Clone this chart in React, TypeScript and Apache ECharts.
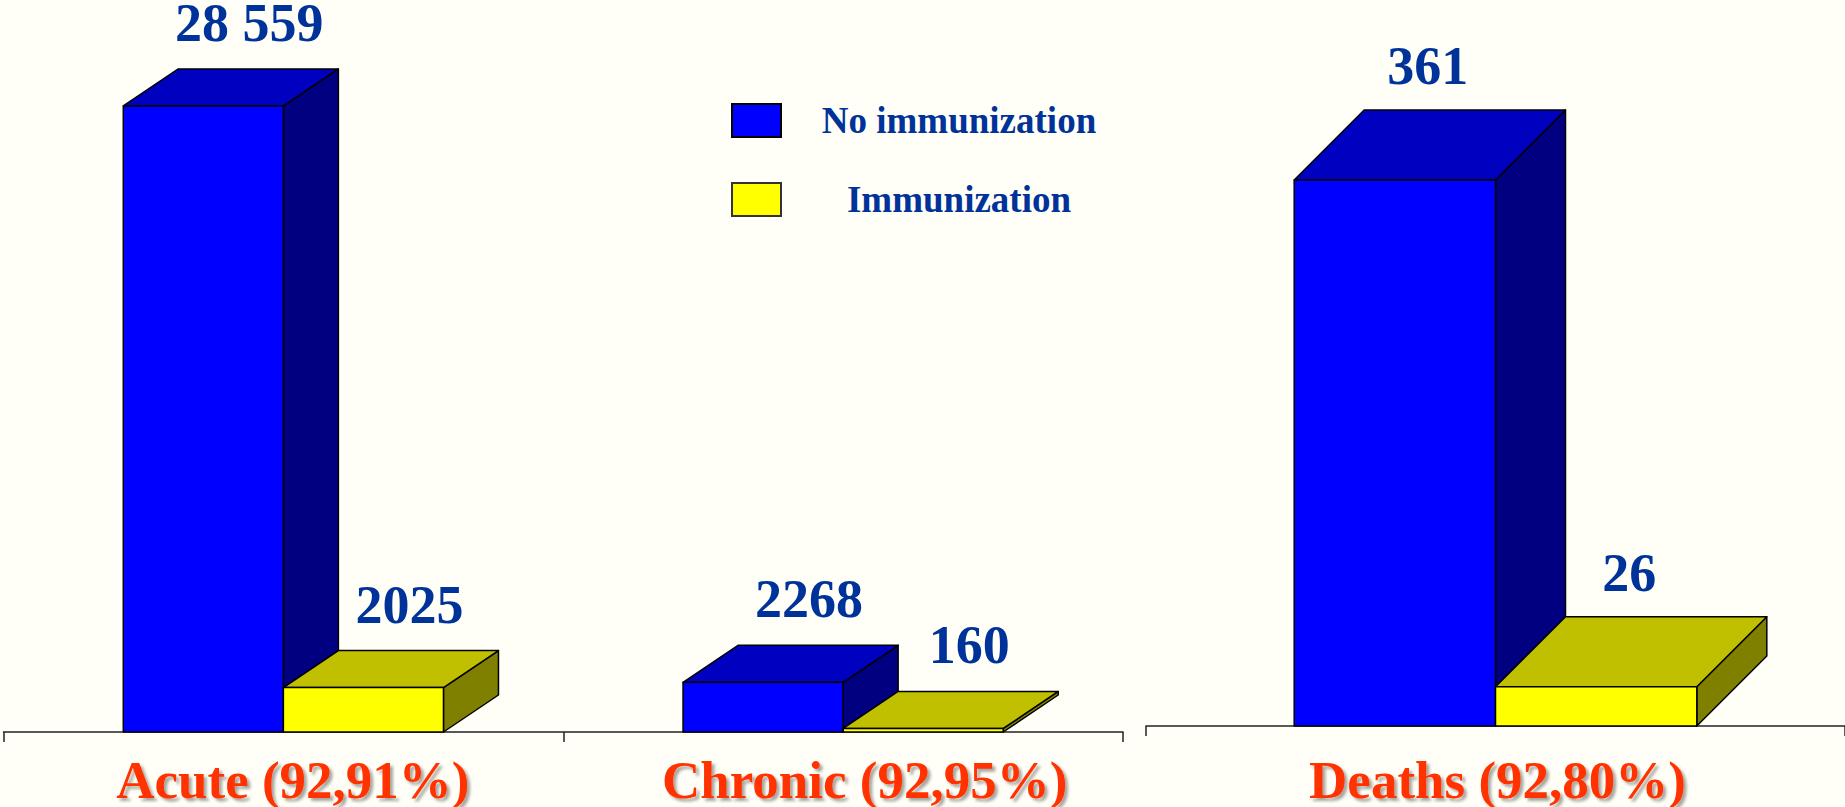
import React, { useEffect, useRef } from 'react';
import * as echarts from 'echarts';

// ---------- data ----------
const categoriesLeft = ['Acute (92,91%)', 'Chronic (92,95%)'];
const categoriesRight = ['Deaths (92,80%)'];
const noImmunizationLeft = [28559, 2268];
const immunizationLeft = [2025, 160];
const noImmunizationRight = [361];
const immunizationRight = [26];
const seriesNames = ['No immunization', 'Immunization'];

// ---------- styles ----------
const FONT = '"Liberation Serif", "Times New Roman", serif';
const BG = '#FFFFF7';
const BLUE = { front: '#0000FF', top: '#0000C0', side: '#000080' };
const YELLOW = { front: '#FFFF00', top: '#C0C000', side: '#808000' };
const VALUE_COLOR = '#003399';
const CAT_COLOR = '#FF3300';
const labelShiftLeft = [9.5, 21.5];
const labelShiftRight = [2];

function fmt(v: number): string {
  return v >= 10000 ? String(v).replace(/\B(?=(\d{3})+(?!\d))/g, ' ') : String(v);
}

function make3DRender(side: number, ratio: number, dx: number, dy: number, labelDx: number, labelGap: number, c: any) {
  return (params: any, api: any) => {
    const cat = api.value(0);
    const v = api.value(1);
    const pTop = api.coord([cat, v]);
    const pBase = api.coord([cat, 0]);
    const band = api.size([1, 0])[0];
    const w = band * ratio;
    const x0 = side < 0 ? pTop[0] - w : pTop[0];
    const x1 = x0 + w;
    const yT = pTop[1];
    const yB = pBase[1];
    const stroke = { stroke: '#000', lineWidth: 1.5, lineJoin: 'round' };
    return {
      type: 'group',
      children: [
        {
          type: 'polygon',
          shape: { points: [[x1, yB], [x1, yT], [x1 + dx, yT - dy], [x1 + dx, yB - dy]] },
          style: { fill: c.side, ...stroke },
        },
        {
          type: 'polygon',
          shape: { points: [[x0, yT], [x0 + dx, yT - dy], [x1 + dx, yT - dy], [x1, yT]] },
          style: { fill: c.top, ...stroke },
        },
        {
          type: 'rect',
          shape: { x: x0, y: yT, width: w, height: yB - yT },
          style: { fill: c.front, ...stroke },
        },
        {
          type: 'text',
          x: x0 + w / 2 + labelDx,
          y: yT - dy - labelGap,
          style: {
            text: fmt(v),
            fill: VALUE_COLOR,
            fontSize: 54,
            fontWeight: 'bold',
            fontFamily: FONT,
            align: 'center',
            verticalAlign: 'middle',
          },
        },
      ],
    };
  };
}

function catAxis(gridIndex: number, cats: string[], shifts: number[], margin: number) {
  return {
    type: 'category',
    gridIndex,
    data: cats.map((c, i) => ({ value: c, textStyle: { padding: [0, 0, 0, shifts[i] * 2] } })),
    boundaryGap: true,
    axisLine: { show: true, lineStyle: { color: '#222', width: 1.5 } },
    axisTick: { show: true, length: 10, lineStyle: { color: '#222', width: 1.5 } },
    axisLabel: {
      margin,
      color: CAT_COLOR,
      fontSize: 53,
      lineHeight: 42,
      fontWeight: 'bold',
      fontFamily: FONT,
      textShadowColor: 'rgba(0,0,0,0.35)',
      textShadowBlur: 3,
      textShadowOffsetX: 3,
      textShadowOffsetY: 3,
    },
    splitLine: { show: false },
  };
}

function toData(values: number[]) {
  return values.map((v, i) => [i, v]);
}

export default function App() {
  const ref = useRef<HTMLDivElement>(null);
  useEffect(() => {
    if (!ref.current) return;
    const chart = echarts.init(ref.current, undefined, { renderer: 'svg' });
    const option: any = {
      animation: false,
      backgroundColor: BG,
      legend: {
        orient: 'vertical',
        left: 731,
        top: 102,
        padding: 0,
        itemWidth: 49,
        itemHeight: 33,
        itemGap: 42,
        icon: 'rect',
        selectedMode: false,
        data: [
          { name: seriesNames[0], itemStyle: { color: BLUE.front, borderColor: '#000', borderWidth: 2 } },
          { name: seriesNames[1], itemStyle: { color: YELLOW.front, borderColor: '#333', borderWidth: 2 } },
        ],
        formatter: '{t|{name}}',
        textStyle: {
          rich: {
            t: {
              width: 346,
              align: 'center',
              fontSize: 37,
              fontWeight: 'bold',
              fontFamily: FONT,
              color: VALUE_COLOR,
              lineHeight: 33,
            },
          },
        },
      },
      grid: [
        { left: 3.5, right: 722, top: 74.4, bottom: 75, containLabel: false },
        { left: 1146, right: 0, top: 121, bottom: 81, containLabel: false },
      ],
      xAxis: [
        catAxis(0, categoriesLeft, labelShiftLeft, 27),
        catAxis(1, categoriesRight, labelShiftRight, 33),
      ],
      yAxis: [
        { type: 'value', gridIndex: 0, min: 0, max: 30000, show: false, splitLine: { show: false } },
        { type: 'value', gridIndex: 1, min: 0, max: 400, show: false, splitLine: { show: false } },
      ],
      series: [
        {
          type: 'custom', name: seriesNames[0], xAxisIndex: 0, yAxisIndex: 0, clip: false,
          itemStyle: { color: BLUE.front },
          encode: { x: 0, y: 1 },
          data: toData(noImmunizationLeft),
          renderItem: make3DRender(-1, 0.286, 55, 37, 46, 46, BLUE),
        },
        {
          type: 'custom', name: seriesNames[1], xAxisIndex: 0, yAxisIndex: 0, clip: false,
          itemStyle: { color: YELLOW.front },
          encode: { x: 0, y: 1 },
          data: toData(immunizationLeft),
          renderItem: make3DRender(1, 0.286, 55, 37, 46, 46, YELLOW),
        },
        {
          type: 'custom', name: seriesNames[0], xAxisIndex: 1, yAxisIndex: 1, clip: false,
          itemStyle: { color: BLUE.front },
          encode: { x: 0, y: 1 },
          data: toData(noImmunizationRight),
          renderItem: make3DRender(-1, 0.288, 70, 70, 33, 44, BLUE),
        },
        {
          type: 'custom', name: seriesNames[1], xAxisIndex: 1, yAxisIndex: 1, clip: false,
          itemStyle: { color: YELLOW.front },
          encode: { x: 0, y: 1 },
          data: toData(immunizationRight),
          renderItem: make3DRender(1, 0.288, 70, 70, 33, 44, YELLOW),
        },
      ],
    };
    chart.setOption(option);
    return () => chart.dispose();
  }, []);
  return (
    <div
      ref={ref}
      style={{ position: 'fixed', left: 0, top: 0, width: '1845px', height: '807px', background: BG }}
    />
  );
}
